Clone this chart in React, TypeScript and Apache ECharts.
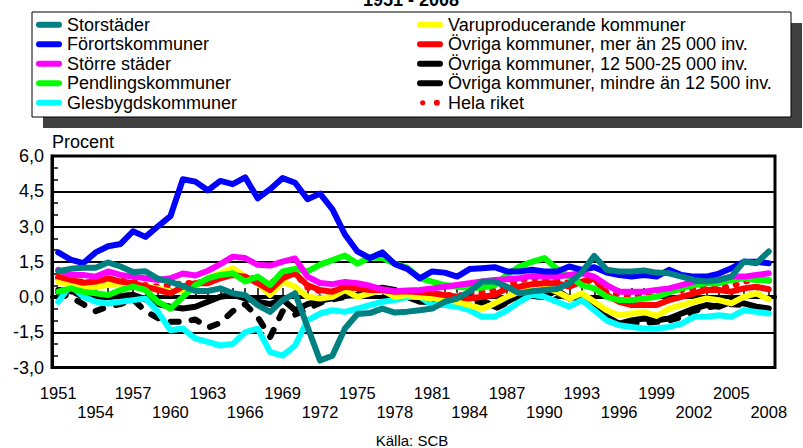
import React, { useEffect, useRef } from 'react';
import * as echarts from 'echarts';

const years = [
  '1951', '1952', '1953', '1954', '1955', '1956', '1957', '1958', '1959', '1960',
  '1961', '1962', '1963', '1964', '1965', '1966', '1967', '1968', '1969', '1970',
  '1971', '1972', '1973', '1974', '1975', '1976', '1977', '1978', '1979', '1980',
  '1981', '1982', '1983', '1984', '1985', '1986', '1987', '1988', '1989', '1990',
  '1991', '1992', '1993', '1994', '1995', '1996', '1997', '1998', '1999', '2000',
  '2001', '2002', '2003', '2004', '2005', '2006', '2007', '2008',
];

const storstader = [
  1.1, 1.2, 1.25, 1.25, 1.47, 1.3, 1.07, 1.1, 0.78, 0.65,
  0.47, 0.26, 0.26, 0.37, 0.16, 0.08, -0.34, -0.63, -0.13, 0.16,
  -1.27, -2.7, -2.49, -1.34, -0.72, -0.68, -0.49, -0.66, -0.62, -0.56,
  -0.49, -0.2, -0.06, 0.23, 0.66, 0.66, 0.44, 0.16, 0.25, 0.3,
  0.34, 0.59, 1.05, 1.75, 1.16, 1.09, 1.09, 1.13, 1.04, 1.01,
  0.87, 0.73, 0.66, 0.73, 0.87, 1.51, 1.44, 1.94,
];
const forort = [
  1.9, 1.59, 1.44, 1.9, 2.16, 2.26, 2.8, 2.56, 3.01, 3.44,
  5.01, 4.91, 4.54, 4.94, 4.8, 5.09, 4.2, 4.59, 5.06, 4.86,
  4.16, 4.4, 3.73, 2.66, 1.94, 1.66, 1.9, 1.4, 1.2, 0.8,
  1.09, 1.04, 0.87, 1.19, 1.23, 1.27, 1.09, 1.09, 1.16, 1.09,
  1.09, 1.3, 1.16, 1.27, 1.04, 0.94, 0.87, 0.94, 0.87, 1.16,
  0.94, 0.87, 0.87, 1.0, 1.23, 1.5, 1.5, 1.44,
];
const storreStader = [
  1.16, 0.94, 0.94, 0.87, 1.09, 0.94, 0.87, 0.8, 0.73, 0.8,
  1.0, 0.92, 1.12, 1.4, 1.72, 1.66, 1.37, 1.34, 1.51, 1.64,
  0.87, 0.6, 0.55, 0.64, 0.59, 0.48, 0.33, 0.25, 0.28, 0.3,
  0.37, 0.44, 0.51, 0.59, 0.66, 0.73, 0.76, 0.8, 0.9, 0.87,
  0.87, 0.94, 1.01, 0.87, 0.51, 0.23, 0.23, 0.23, 0.3, 0.37,
  0.51, 0.66, 0.73, 0.73, 0.87, 0.87, 0.94, 1.01,
];
const pendling = [
  0.23, 0.37, 0.23, 0.16, 0.09, 0.3, 0.44, 0.3, -0.2, -0.49,
  0.01, 0.51, 0.8, 0.94, 1.01, 0.66, 0.87, 0.51, 1.09, 1.2,
  1.09, 1.38, 1.57, 1.77, 1.42, 1.68, 1.66, 1.42, 1.25, 0.8,
  0.66, 0.51, 0.44, 0.4, 0.4, 0.5, 0.95, 1.3, 1.5, 1.66,
  1.2, 0.87, 0.51, 0.37, 0.01, -0.13, -0.13, -0.06, 0.01, 0.2,
  0.37, 0.51, 0.59, 0.59, 0.73, 0.8, 0.73, 0.73,
];
const glesbygd = [
  -0.2, 0.51, 0.01, -0.2, -0.27, -0.2, -0.13, -0.06, -0.63, -1.41,
  -1.34, -1.77, -1.91, -2.06, -1.99, -1.49, -1.34, -2.34, -2.49, -2.06,
  -0.99, -0.7, -0.56, -0.63, -0.49, -0.34, -0.2, -0.13, 0.0, 0.01,
  -0.34, -0.34, -0.41, -0.56, -0.84, -0.84, -0.56, -0.2, 0.1, 0.01,
  -0.2, -0.41, -0.13, -0.56, -0.99, -1.2, -1.27, -1.34, -1.34, -1.27,
  -1.13, -0.84, -0.84, -0.77, -0.84, -0.56, -0.63, -0.7,
];
const varuprod = [
  0.66, 0.51, 0.44, 0.44, 0.51, 0.59, 0.44, 0.44, 0.37, 0.23,
  0.3, 0.51, 0.8, 1.01, 1.23, 0.87, 0.59, 0.09, 0.66, 0.44,
  0.01, -0.06, 0.01, 0.3, 0.01, 0.16, 0.3, 0.01, 0.09, 0.0,
  -0.05, -0.13, -0.2, -0.34, -0.5, -0.27, 0.01, 0.23, 0.48, 0.44,
  0.23, -0.06, 0.16, -0.2, -0.56, -0.77, -0.7, -0.63, -0.8, -0.49,
  -0.34, -0.2, -0.06, -0.13, -0.27, 0.01, 0.16, -0.1,
];
const ovrigaStora = [
  0.87, 0.73, 0.61, 0.66, 0.8, 0.66, 0.59, 0.44, 0.3, 0.16,
  0.44, 0.59, 0.59, 0.8, 0.94, 0.87, 0.59, 0.3, 0.8, 1.01,
  0.5, 0.3, 0.23, 0.44, 0.37, 0.3, 0.3, 0.23, 0.25, 0.2,
  0.16, 0.09, 0.01, -0.06, 0.01, 0.09, 0.37, 0.44, 0.55, 0.59,
  0.59, 0.44, 0.66, 0.8, 0.09, -0.2, -0.34, -0.34, -0.34, -0.13,
  0.01, 0.16, 0.3, 0.3, 0.23, 0.37, 0.44, 0.33,
];
const ovrigaMellan = [
  0.3, 0.25, 0.15, 0.0, 0.0, 0.05, 0.1, -0.1, -0.3, -0.41,
  -0.49, -0.41, -0.2, 0.01, 0.09, -0.06, -0.2, -0.3, -0.1, -0.56,
  -0.3, -0.15, -0.05, 0.05, 0.1, 0.3, 0.4, 0.3, 0.0, -0.2,
  -0.2, -0.13, -0.06, 0.0, -0.13, -0.41, -0.2, 0.09, 0.05, 0.01,
  0.3, -0.06, 0.09, -0.27, -0.84, -1.13, -0.99, -0.91, -0.99, -0.91,
  -0.7, -0.49, -0.34, -0.41, -0.2, -0.27, -0.41, -0.49,
];
const ovrigaSma = [
  0.2, 0.0, -0.3, -0.6, -0.4, -0.3, -0.1, -0.6, -0.9, -1.05,
  -1.05, -0.95, -1.3, -1.1, -0.6, -0.3, -0.85, -1.7, -0.6, -0.75,
  -0.5, -0.25, -0.1, 0.0, 0.1, 0.2, 0.3, 0.2, 0.0, -0.15,
  -0.25, -0.2, -0.1, -0.1, -0.3, -0.5, -0.25, 0.0, 0.05, 0.0,
  0.2, -0.1, 0.0, -0.35, -1.0, -1.15, -1.1, -1.1, -1.05, -1.0,
  -0.85, -0.6, -0.45, -0.35, -0.3, -0.35, -0.45, -0.55,
];
const helaRiket = [
  0.8, 0.7, 0.65, 0.6, 0.75, 0.7, 0.65, 0.5, 0.45, 0.5,
  0.6, 0.6, 0.7, 0.9, 1.0, 0.9, 0.75, 0.55, 1.0, 1.0,
  0.4, 0.25, 0.2, 0.35, 0.4, 0.35, 0.35, 0.3, 0.25, 0.15,
  0.1, 0.1, 0.05, 0.15, 0.2, 0.3, 0.5, 0.7, 0.8, 0.75,
  0.7, 0.6, 0.6, 0.75, 0.2, 0.1, 0.05, 0.05, 0.1, 0.25,
  0.3, 0.35, 0.4, 0.4, 0.45, 0.65, 0.75, 0.7,
];

const names = {
  storstader: 'Storstäder',
  forort: 'Förortskommuner',
  storre: 'Större städer',
  pendling: 'Pendlingskommuner',
  gles: 'Glesbygdskommuner',
  varu: 'Varuproducerande kommuner',
  stora: 'Övriga kommuner, mer än 25 000 inv.',
  mellan: 'Övriga kommuner, 12 500-25 000 inv.',
  sma: 'Övriga kommuner, mindre än 12 500 inv.',
  hela: 'Hela riket',
};

const FONT = '"Liberation Sans", Arial, Helvetica, sans-serif';
const LINE_ICON = 'path://M3,0L23,0A3,3,0,0,1,23,6L3,6A3,3,0,0,1,3,0Z';
const DOT_ICON = 'path://M0,3.5A3,3,0,1,1,6,3.5A3,3,0,1,1,0,3.5ZM16,3.5A3.5,3.5,0,1,1,23,3.5A3.5,3.5,0,1,1,16,3.5Z';

export default function App() {
  const ref = useRef<HTMLDivElement>(null);

  useEffect(() => {
    if (!ref.current) return;
    const chart = echarts.init(ref.current, null, { renderer: 'svg' });

    const line = (name: string, data: number[], color: string, extra: any = {}) => ({
      name,
      type: 'line',
      data,
      symbol: 'none',
      showSymbol: false,
      silent: true,
      itemStyle: { color },
      lineStyle: { color, width: 6, cap: 'round', join: 'round', ...extra },
    });

    const legendBase = {
      orient: 'vertical',
      top: 15,
      padding: 0,
      itemWidth: 26,
      itemHeight: 6,
      itemGap: 0,
      selectedMode: false,
      itemStyle: { borderWidth: 0 },
      textStyle: { fontFamily: FONT, fontSize: 18, color: '#000', lineHeight: 19.5 },
    };

    chart.setOption({
      animation: false,
      backgroundColor: '#fff',
      textStyle: { fontFamily: FONT },
      graphic: [
        { type: 'rect', z: 0, shape: { x: 43, y: 23, width: 759, height: 105 }, style: { fill: '#404040' } },
        { type: 'rect', z: 1, shape: { x: 32, y: 12, width: 759, height: 105 }, style: { fill: '#fff', stroke: '#000', lineWidth: 1 } },
        {
          type: 'text', z: 1, x: 411, y: 9,
          style: { text: '1951 - 2008', fontFamily: FONT, fontSize: 18, fontWeight: 'bold', fill: '#000', align: 'center', verticalAlign: 'bottom' },
        },
        {
          type: 'text', z: 1, x: 52, y: 142,
          style: { text: 'Procent', fontFamily: FONT, fontSize: 18, fill: '#000', align: 'left', verticalAlign: 'middle' },
        },
        {
          type: 'text', z: 1, x: 412, y: 440,
          style: { text: 'Källa: SCB', fontFamily: FONT, fontSize: 15, fill: '#000', align: 'center', verticalAlign: 'middle' },
        },
      ],
      legend: [
        {
          ...legendBase,
          left: 36,
          data: [
            { name: names.storstader, icon: LINE_ICON },
            { name: names.forort, icon: LINE_ICON },
            { name: names.storre, icon: LINE_ICON },
            { name: names.pendling, icon: LINE_ICON },
            { name: names.gles, icon: LINE_ICON },
          ],
        },
        {
          ...legendBase,
          left: 417,
          data: [
            { name: names.varu, icon: LINE_ICON },
            { name: names.stora, icon: LINE_ICON },
            { name: names.mellan, icon: LINE_ICON },
            { name: names.sma, icon: LINE_ICON },
            { name: names.hela, icon: DOT_ICON },
          ],
        },
      ],
      grid: {
        left: 52,
        right: 28,
        top: 156,
        bottom: 80.4,
        show: true,
        backgroundColor: '#fff',
        borderColor: '#000',
        borderWidth: 3,
      },
      xAxis: {
        type: 'category',
        data: years,
        boundaryGap: true,
        axisLine: { show: true, lineStyle: { color: '#000', width: 4 } },
        axisTick: { show: true, inside: true, alignWithLabel: true, interval: 0, length: 9, lineStyle: { color: '#000', width: 1.5 } },
        axisLabel: {
          interval: (i: number) => i % 3 === 0,
          showMinLabel: true,
          showMaxLabel: true,
          hideOverlap: false,
          formatter: (v: string) => ((parseInt(v, 10) - 1951) % 6 === 3 ? '\n' + v : v),
          fontFamily: FONT,
          fontSize: 16.5,
          lineHeight: 19,
          color: '#000',
          margin: 16,
        },
        splitLine: { show: false },
      },
      yAxis: {
        type: 'value',
        min: -3,
        max: 6,
        interval: 1.5,
        axisLine: { show: true, lineStyle: { color: '#000', width: 3 } },
        axisTick: { show: true, inside: true, length: 6, lineStyle: { color: '#000', width: 1.5 } },
        minorTick: { show: true, splitNumber: 3, length: 6, lineStyle: { color: '#000', width: 1.5 } },
        axisLabel: {
          formatter: (v: number) => v.toFixed(1).replace('.', ','),
          fontFamily: FONT,
          fontSize: 18,
          color: '#000',
          margin: 8,
        },
        splitLine: { show: true, lineStyle: { color: '#000', width: 2 } },
      },
      series: [
        line('helaWhite', helaRiket, '#ffffff'),
        line(names.hela, helaRiket, '#ff0000', { type: [1, 10] }),
        line('smaWhite', ovrigaSma, '#ffffff'),
        line(names.sma, ovrigaSma, '#000000', { type: [8, 13] }),
        line(names.mellan, ovrigaMellan, '#000000'),
        line(names.gles, glesbygd, '#00ffff'),
        line(names.varu, varuprod, '#ffff00'),
        line(names.stora, ovrigaStora, '#ff0000'),
        line(names.pendling, pendling, '#00ff00'),
        line(names.storre, storreStader, '#ff00ff'),
        line(names.forort, forort, '#0000ff'),
        line(names.storstader, storstader, '#008080'),
      ],
    });

    return () => chart.dispose();
  }, []);

  return <div ref={ref} style={{ position: 'fixed', left: 0, top: 0, width: 803, height: 448 }} />;
}
